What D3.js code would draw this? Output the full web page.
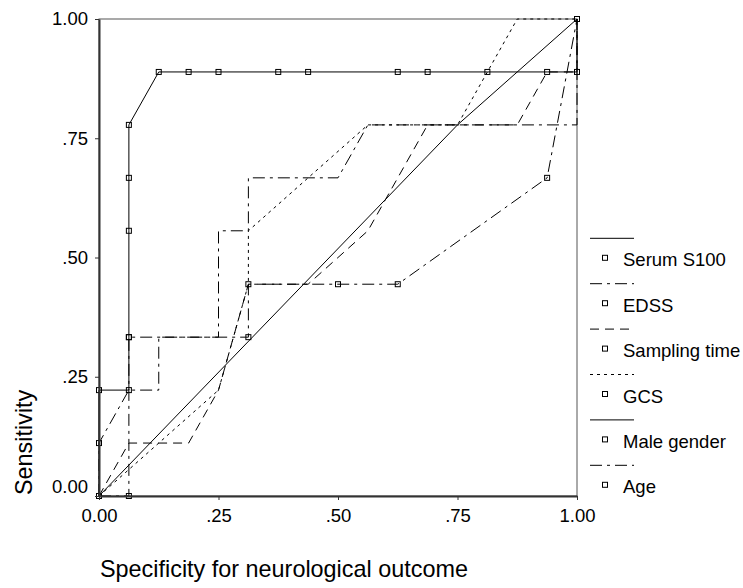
<!DOCTYPE html>
<html>
<head>
<meta charset="utf-8">
<script src="https://cdn.jsdelivr.net/npm/d3@7"></script>
<style>
  body { margin: 0; background: #fff; }
  text { font-family: "Liberation Sans", Arial, sans-serif; fill: #000; }
</style>
</head>
<body>
<svg id="chart" width="743" height="588"></svg>
<script>
// ROC curves, values
const seriesNames = ["Serum S100", "EDSS", "Sampling time", "GCS", "Male gender", "Age"];
const serumS100 = [[0, 0], [0, 0.111], [0, 0.222], [0.0625, 0.222], [0.0625, 0.333], [0.0625, 0.556],
    [0.0625, 0.667], [0.0625, 0.778], [0.125, 0.889], [0.1875, 0.889], [0.25, 0.889], [0.375, 0.889],
    [0.4375, 0.889], [0.625, 0.889], [0.6875, 0.889], [0.8125, 0.889], [0.9375, 0.889], [1, 0.889], [1, 1]];
const edss = [[0, 0], [0, 0.111], [0.0625, 0.222], [0.125, 0.222], [0.125, 0.333], [0.25, 0.333],
    [0.25, 0.556], [0.3125, 0.556], [0.3125, 0.667], [0.5, 0.667], [0.5625, 0.778], [1, 0.778], [1, 1]];
const samplingTime = [[0, 0], [0.0625, 0.111], [0.1875, 0.111], [0.25, 0.222], [0.3125, 0.444],
    [0.4375, 0.444], [0.5625, 0.556], [0.6875, 0.778], [0.875, 0.778], [0.9375, 0.889], [1, 0.889], [1, 1]];
const gcs = [[0, 0], [0.25, 0.222], [0.3125, 0.444], [0.3125, 0.556], [0.5625, 0.778], [0.75, 0.778],
    [0.875, 1], [1, 1]];
const maleGender = [[0, 0], [0.75, 0.778], [1, 1]];
const age = [[0, 0], [0.0625, 0], [0.0625, 0.333], [0.3125, 0.333], [0.3125, 0.444], [0.5, 0.444],
    [0.625, 0.444], [0.9375, 0.667], [1, 1]];
const seriesData = [serumS100, edss, samplingTime, gcs, maleGender, age];
const markedSeries = [true, false, false, false, false, true];
const tickValues = [0, 0.25, 0.5, 0.75, 1];

// line styles in the SPSS order: solid, dash-dot, dash, dot, then again
const dashes = [null, "12,5,3,5", "9,6", "3,4", null, "12,5,3,5"];

const svg = d3.select("#chart");
const x = d3.scaleLinear().domain([0, 1]).range([99, 577]);
const y = d3.scaleLinear().domain([0, 1]).range([496, 19]);

const fmt = d => {
    let s = d3.format(".2f")(d);
    return (d > 0 && d < 1) ? s.replace(/^0/, "") : s;
};

// frame
svg.append("rect")
    .attr("x", x(0)).attr("y", y(1))
    .attr("width", x(1) - x(0)).attr("height", y(0) - y(1))
    .attr("fill", "none").attr("stroke", "#555").attr("stroke-width", 1);

// lines
const line = d3.line().x(d => x(d[0])).y(d => y(d[1]));
seriesData.forEach((pts, i) => {
    svg.append("path")
        .datum(pts)
        .attr("d", line)
        .attr("fill", "none")
        .attr("stroke", "#000")
        .attr("stroke-width", 1)
        .attr("stroke-dasharray", dashes[i]);
});

// markers
seriesData.forEach((pts, i) => {
    if (!markedSeries[i]) return;
    svg.selectAll(null)
        .data(pts)
        .enter()
        .append("rect")
        .attr("x", d => x(d[0]) - 2.5)
        .attr("y", d => y(d[1]) - 2.5)
        .attr("width", 5).attr("height", 5)
        .attr("fill", "none").attr("stroke", "#000").attr("stroke-width", 1);
});

// axes
const xAxis = svg.append("g")
    .attr("transform", `translate(0,${y(0)})`)
    .call(d3.axisBottom(x).tickValues(tickValues).tickFormat(fmt).tickSize(4).tickPadding(9).tickSizeOuter(0));
const yAxis = svg.append("g")
    .attr("transform", `translate(${x(0)},0)`)
    .call(d3.axisLeft(y).tickValues(tickValues).tickFormat(fmt).tickSize(4).tickPadding(7).tickSizeOuter(0));
[xAxis, yAxis].forEach(a => {
    a.select(".domain").attr("stroke", "#333").attr("stroke-width", 2);
    a.selectAll(".tick line").attr("stroke", "#333");
    a.selectAll("text").attr("font-size", "18.5px")
        .attr("font-family", "'Liberation Sans', Arial, sans-serif").attr("fill", "#000");
});
// the 0.00 label on the y axis sits a bit higher than its tick
yAxis.selectAll(".tick").filter(d => d === 0).select("text").attr("transform", "translate(0,-9)");

// axis titles
svg.append("text")
    .attr("x", 100).attr("y", 577)
    .attr("font-size", "23.4px")
    .text("Specificity for neurological outcome");
svg.append("text")
    .attr("transform", "translate(32,495) rotate(-90)")
    .attr("font-size", "23.4px")
    .text("Sensitivity");

// legend
const legend = svg.append("g");
seriesNames.forEach((name, i) => {
    const ly = 238.3 + i * 45.4;
    legend.append("line")
        .attr("x1", 590).attr("x2", 634).attr("y1", ly).attr("y2", ly)
        .attr("stroke", "#000").attr("stroke-width", 1)
        .attr("stroke-dasharray", dashes[i]);
    legend.append("rect")
        .attr("x", 605 - 2.5).attr("y", ly + 19.5 - 2.5)
        .attr("width", 5).attr("height", 5)
        .attr("fill", "none").attr("stroke", "#000").attr("stroke-width", 1);
    legend.append("text")
        .attr("x", 623).attr("y", ly + 28)
        .attr("font-size", "18.5px")
        .text(name);
});
</script>
</body>
</html>
